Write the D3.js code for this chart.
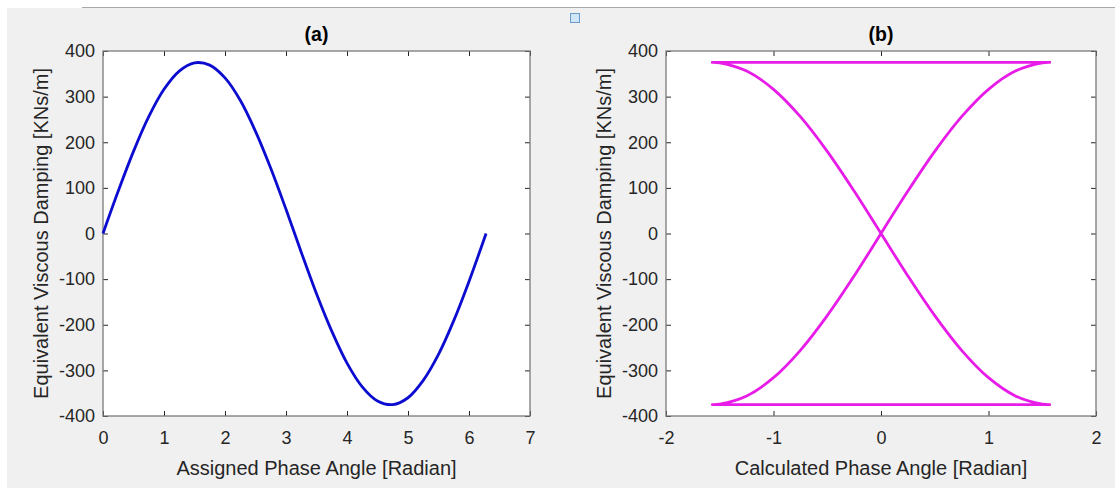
<!DOCTYPE html>
<html>
<head>
<meta charset="utf-8">
<script src="https://cdn.jsdelivr.net/npm/d3@7"></script>
<style>
  body { margin: 0; background: #fff; }
  text { font-family: "Liberation Sans", Arial, sans-serif; }
</style>
</head>
<body>
<script>
var w = 1115;
var h = 490;

// (a) assigned phase angle vs damping
var phaseA = [0, 0.25, 0.5, 0.75, 1.0, 1.25, 1.5, 1.75, 2.0, 2.25, 2.5, 2.75, 3.0,
  3.25, 3.5, 3.75, 4.0, 4.25, 4.5, 4.75, 5.0, 5.25, 5.5, 5.75, 6.0, 6.28];
var dampA = [0, 93, 180, 256, 316, 356, 374, 369, 341, 292, 224, 143, 53,
  -41, -132, -214, -284, -336, -367, -375, -360, -322, -265, -191, -105, 0];

// (b) calculated phase angle, three branches joined by jumps
var phaseB1 = [0, 0.25, 0.5, 0.75, 1.0, 1.25, 1.5, 1.57];
var dampB1 = [0, 93, 180, 256, 316, 356, 374, 375];
var phaseB2 = [-1.57, -1.5, -1.25, -1.0, -0.75, -0.5, -0.25, 0, 0.25, 0.5, 0.75, 1.0, 1.25, 1.5, 1.57];
var dampB2 = [375, 374, 356, 316, 256, 180, 93, 0, -93, -180, -256, -316, -356, -374, -375];
var phaseB3 = [-1.57, -1.5, -1.25, -1.0, -0.75, -0.5, -0.25, 0];
var dampB3 = [-375, -374, -356, -316, -256, -180, -93, 0];

var yTicks = [-400, -300, -200, -100, 0, 100, 200, 300, 400];
var xTicksA = [0, 1, 2, 3, 4, 5, 6, 7];
var xTicksB = [-2, -1, 0, 1, 2];

var svg = d3.select("body")
  .append("svg")
  .attr("width", w)
  .attr("height", h);

// figure background
svg.append("rect")
  .attr("x", 7).attr("y", 8)
  .attr("width", w - 7).attr("height", 480)
  .attr("fill", "#f0f0f0");
svg.append("line")
  .attr("x1", 82).attr("x2", w)
  .attr("y1", 7.5).attr("y2", 7.5)
  .attr("stroke", "#a8a8a8");
svg.append("rect")
  .attr("x", 570.5).attr("y", 13.5)
  .attr("width", 9).attr("height", 9)
  .attr("fill", "#cfe6f8")
  .attr("stroke", "#6b9bc8");

var plotTop = 51, plotBottom = 416;

function zip(xs, ys) {
  return xs.map(function(d, i) { return [d, ys[i]]; });
}

function plain(d) { return String(d); }

function panel(left, right, xDomain, xTicks, title, xLabel) {
  var xScale = d3.scaleLinear().domain(xDomain).range([left, right]);
  var yScale = d3.scaleLinear().domain([-400, 400]).range([plotBottom, plotTop]);
  var g = svg.append("g");

  g.append("rect")
    .attr("x", left).attr("y", plotTop)
    .attr("width", right - left).attr("height", plotBottom - plotTop)
    .attr("fill", "#fff");

  function styleAxis(sel) {
    sel.select(".domain").remove();
    sel.selectAll(".tick line").attr("stroke", "#262626");
    sel.selectAll(".tick text")
      .attr("fill", "#262626")
      .style("font-size", "18px");
  }

  g.append("g")
    .attr("transform", "translate(0," + plotBottom + ")")
    .call(d3.axisBottom(xScale).tickValues(xTicks).tickSize(-5).tickPadding(15)
      .tickFormat(plain))
    .call(styleAxis);
  g.append("g")
    .attr("transform", "translate(0," + plotTop + ")")
    .call(d3.axisTop(xScale).tickValues(xTicks).tickSize(-5).tickFormat(""))
    .call(styleAxis);
  g.append("g")
    .attr("transform", "translate(" + left + ",0)")
    .call(d3.axisLeft(yScale).tickValues(yTicks).tickSize(-5).tickPadding(8)
      .tickFormat(plain))
    .call(styleAxis);
  g.append("g")
    .attr("transform", "translate(" + right + ",0)")
    .call(d3.axisRight(yScale).tickValues(yTicks).tickSize(-5).tickFormat(""))
    .call(styleAxis);

  // box
  g.append("rect")
    .attr("x", left).attr("y", plotTop)
    .attr("width", right - left).attr("height", plotBottom - plotTop)
    .attr("fill", "none")
    .attr("stroke", "#7a7a7a")
    .attr("stroke-width", 1.3);

  // title
  g.append("text")
    .attr("x", (left + right) / 2)
    .attr("y", 41)
    .attr("text-anchor", "middle")
    .attr("fill", "#000")
    .style("font-size", "19.5px")
    .style("font-weight", "bold")
    .text(title);

  // x label
  g.append("text")
    .attr("x", (left + right) / 2)
    .attr("y", 475)
    .attr("text-anchor", "middle")
    .attr("fill", "#262626")
    .style("font-size", "20px")
    .text(xLabel);

  // y label
  g.append("text")
    .attr("transform", "translate(" + (left - 55) + "," + ((plotTop + plotBottom) / 2) + ") rotate(-90)")
    .attr("text-anchor", "middle")
    .attr("fill", "#262626")
    .style("font-size", "20px")
    .text("Equivalent Viscous Damping [KNs/m]");

  return { x: xScale, y: yScale, g: g };
}

var pa = panel(103, 530, [0, 7], xTicksA, "(a)", "Assigned Phase Angle [Radian]");
var pb = panel(666, 1096, [-2, 2], xTicksB, "(b)", "Calculated Phase Angle [Radian]");

var lineA = d3.line()
  .x(function(d) { return pa.x(d[0]); })
  .y(function(d) { return pa.y(d[1]); })
  .curve(d3.curveCatmullRom.alpha(0.5));

pa.g.append("path")
  .attr("d", lineA(zip(phaseA, dampA)))
  .attr("fill", "none")
  .attr("stroke", "#0c0cd0")
  .attr("stroke-width", 2.8)
  .attr("stroke-linejoin", "round");

var lineB = d3.line()
  .x(function(d) { return pb.x(d[0]); })
  .y(function(d) { return pb.y(d[1]); })
  .curve(d3.curveCatmullRom.alpha(0.5));

// join the branches with straight jumps
var pathB = lineB(zip(phaseB1, dampB1)) +
  lineB(zip(phaseB2, dampB2)).replace(/^M/, "L") +
  lineB(zip(phaseB3, dampB3)).replace(/^M/, "L");

pb.g.append("path")
  .attr("d", pathB)
  .attr("fill", "none")
  .attr("stroke", "#e81ce8")
  .attr("stroke-width", 2.8)
  .attr("stroke-linejoin", "round");
</script>
</body>
</html>
